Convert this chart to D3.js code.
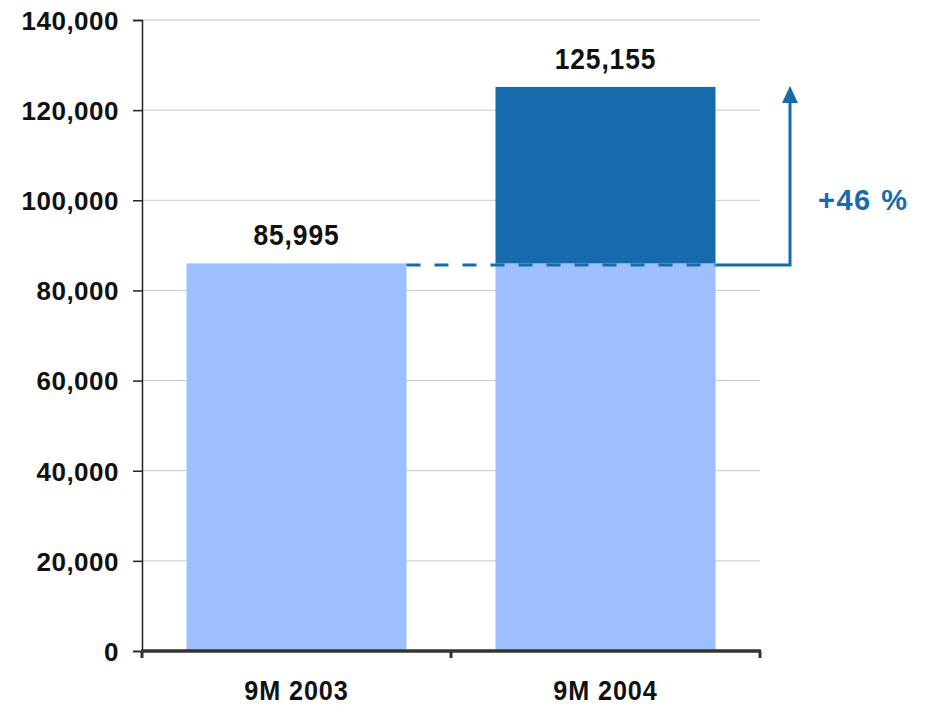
<!DOCTYPE html>
<meta charset="utf-8">
<title>9M 2003 vs 9M 2004</title>
<style>
  body { margin: 0; background: #fff; }
  text { font-family: "Liberation Sans", Arial, sans-serif; font-weight: bold; }
</style>
<body>
<script src="https://d3js.org/d3.v7.min.js"></script>
<script>
var categories = ["9M 2003", "9M 2004"];
var values = [85995, 125155];
var yTicks = [0, 20000, 40000, 60000, 80000, 100000, 120000, 140000];
var growthLabel = "+46 %";

var width = 928, height = 705;
var plotLeft = 142, plotRight = 760, plotTop = 20, plotBottom = 651;

var svg = d3.select("body").append("svg")
  .attr("width", width)
  .attr("height", height);

var x = d3.scaleBand().domain(categories).range([plotLeft, plotRight])
  .paddingInner(0.288).paddingOuter(0.144);
var y = d3.scaleLinear().domain([0, 140000]).range([plotBottom, plotTop]);

// gridlines
svg.append("g").selectAll("line").data(yTicks.slice(1)).enter().append("line")
  .attr("x1", plotLeft).attr("x2", plotRight)
  .attr("y1", function(d) { return y(d); }).attr("y2", function(d) { return y(d); })
  .style("stroke", "#c8c8c8").style("stroke-width", 1);

// light bars = base value (first year)
svg.append("g").selectAll("rect").data(categories).enter().append("rect")
  .attr("x", function(d) { return x(d); })
  .attr("width", x.bandwidth())
  .attr("y", y(values[0]))
  .attr("height", plotBottom - y(values[0]))
  .style("fill", "#9ebfff");

// dark increment on second bar
svg.append("rect")
  .attr("x", x(categories[1]))
  .attr("width", x.bandwidth())
  .attr("y", y(values[1]))
  .attr("height", y(values[0]) - y(values[1]))
  .style("fill", "#176aab");

// y axis
var yAxis = svg.append("g").attr("transform", "translate(" + plotLeft + ",0)")
  .call(d3.axisLeft(y).tickValues(yTicks).tickSize(9).tickPadding(14)
    .tickFormat(d3.format(",")));
yAxis.select(".domain").style("stroke", "#222").style("stroke-width", 1.5);
yAxis.selectAll(".tick line").style("stroke", "#222").style("stroke-width", 1.5);
yAxis.selectAll("text").style("font-size", "26px").style("fill", "#111")
  .style("letter-spacing", "0.5px").attr("dy", "0.36em");

// x axis
var xAxis = svg.append("g").attr("transform", "translate(0," + plotBottom + ")");
xAxis.append("line").attr("x1", plotLeft - 1).attr("x2", plotRight + 1)
  .style("stroke", "#333").style("stroke-width", 3.5);
var xEdges = [plotLeft, (plotLeft + plotRight) / 2, plotRight];
xAxis.selectAll(".xt").data(xEdges).enter().append("line")
  .attr("x1", function(d) { return d; }).attr("x2", function(d) { return d; })
  .attr("y1", 0).attr("y2", 7)
  .style("stroke", "#333").style("stroke-width", 3);
xAxis.selectAll(".xl").data(categories).enter().append("text")
  .attr("transform", function(d) {
    return "translate(" + (x(d) + x.bandwidth() / 2) + ",49) scale(0.9,1)";
  })
  .attr("text-anchor", "middle")
  .style("font-size", "28px").style("fill", "#111").style("letter-spacing", "1px")
  .text(function(d) { return d; });

// value labels
svg.append("g").selectAll("text").data(values).enter().append("text")
  .attr("transform", function(d, i) {
    return "translate(" + (x(categories[i]) + x.bandwidth() / 2) + "," + (y(d) - 18) + ") scale(0.88,1)";
  })
  .attr("text-anchor", "middle")
  .style("font-size", "30px").style("fill", "#111").style("letter-spacing", "1px")
  .text(function(d) { return d3.format(",")(d); });

// dashed reference line from first bar to second bar
var baseY = y(values[0]) + 1.5;
svg.append("line")
  .attr("x1", x(categories[0]) + x.bandwidth()).attr("x2", x(categories[1]) + x.bandwidth())
  .attr("y1", baseY).attr("y2", baseY)
  .style("stroke", "#176aab").style("stroke-width", 3)
  .style("stroke-dasharray", "14,14");

// growth arrow
var arrowX = 790;
var tipY = y(values[1]);
svg.append("path")
  .attr("d", "M" + (x(categories[1]) + x.bandwidth()) + "," + baseY +
    " H" + arrowX + " V" + (tipY + 16))
  .style("fill", "none").style("stroke", "#176aab").style("stroke-width", 3);
svg.append("path")
  .attr("d", "M" + (arrowX - 8) + "," + (tipY + 16) + " L" + arrowX + "," + (tipY - 1) +
    " L" + (arrowX + 8) + "," + (tipY + 16) + " Z")
  .style("fill", "#176aab");

svg.append("text")
  .attr("x", 818).attr("y", 210)
  .style("font-size", "29px").style("fill", "#176aab").style("letter-spacing", "1.5px")
  .text(growthLabel);
</script>
</body>
